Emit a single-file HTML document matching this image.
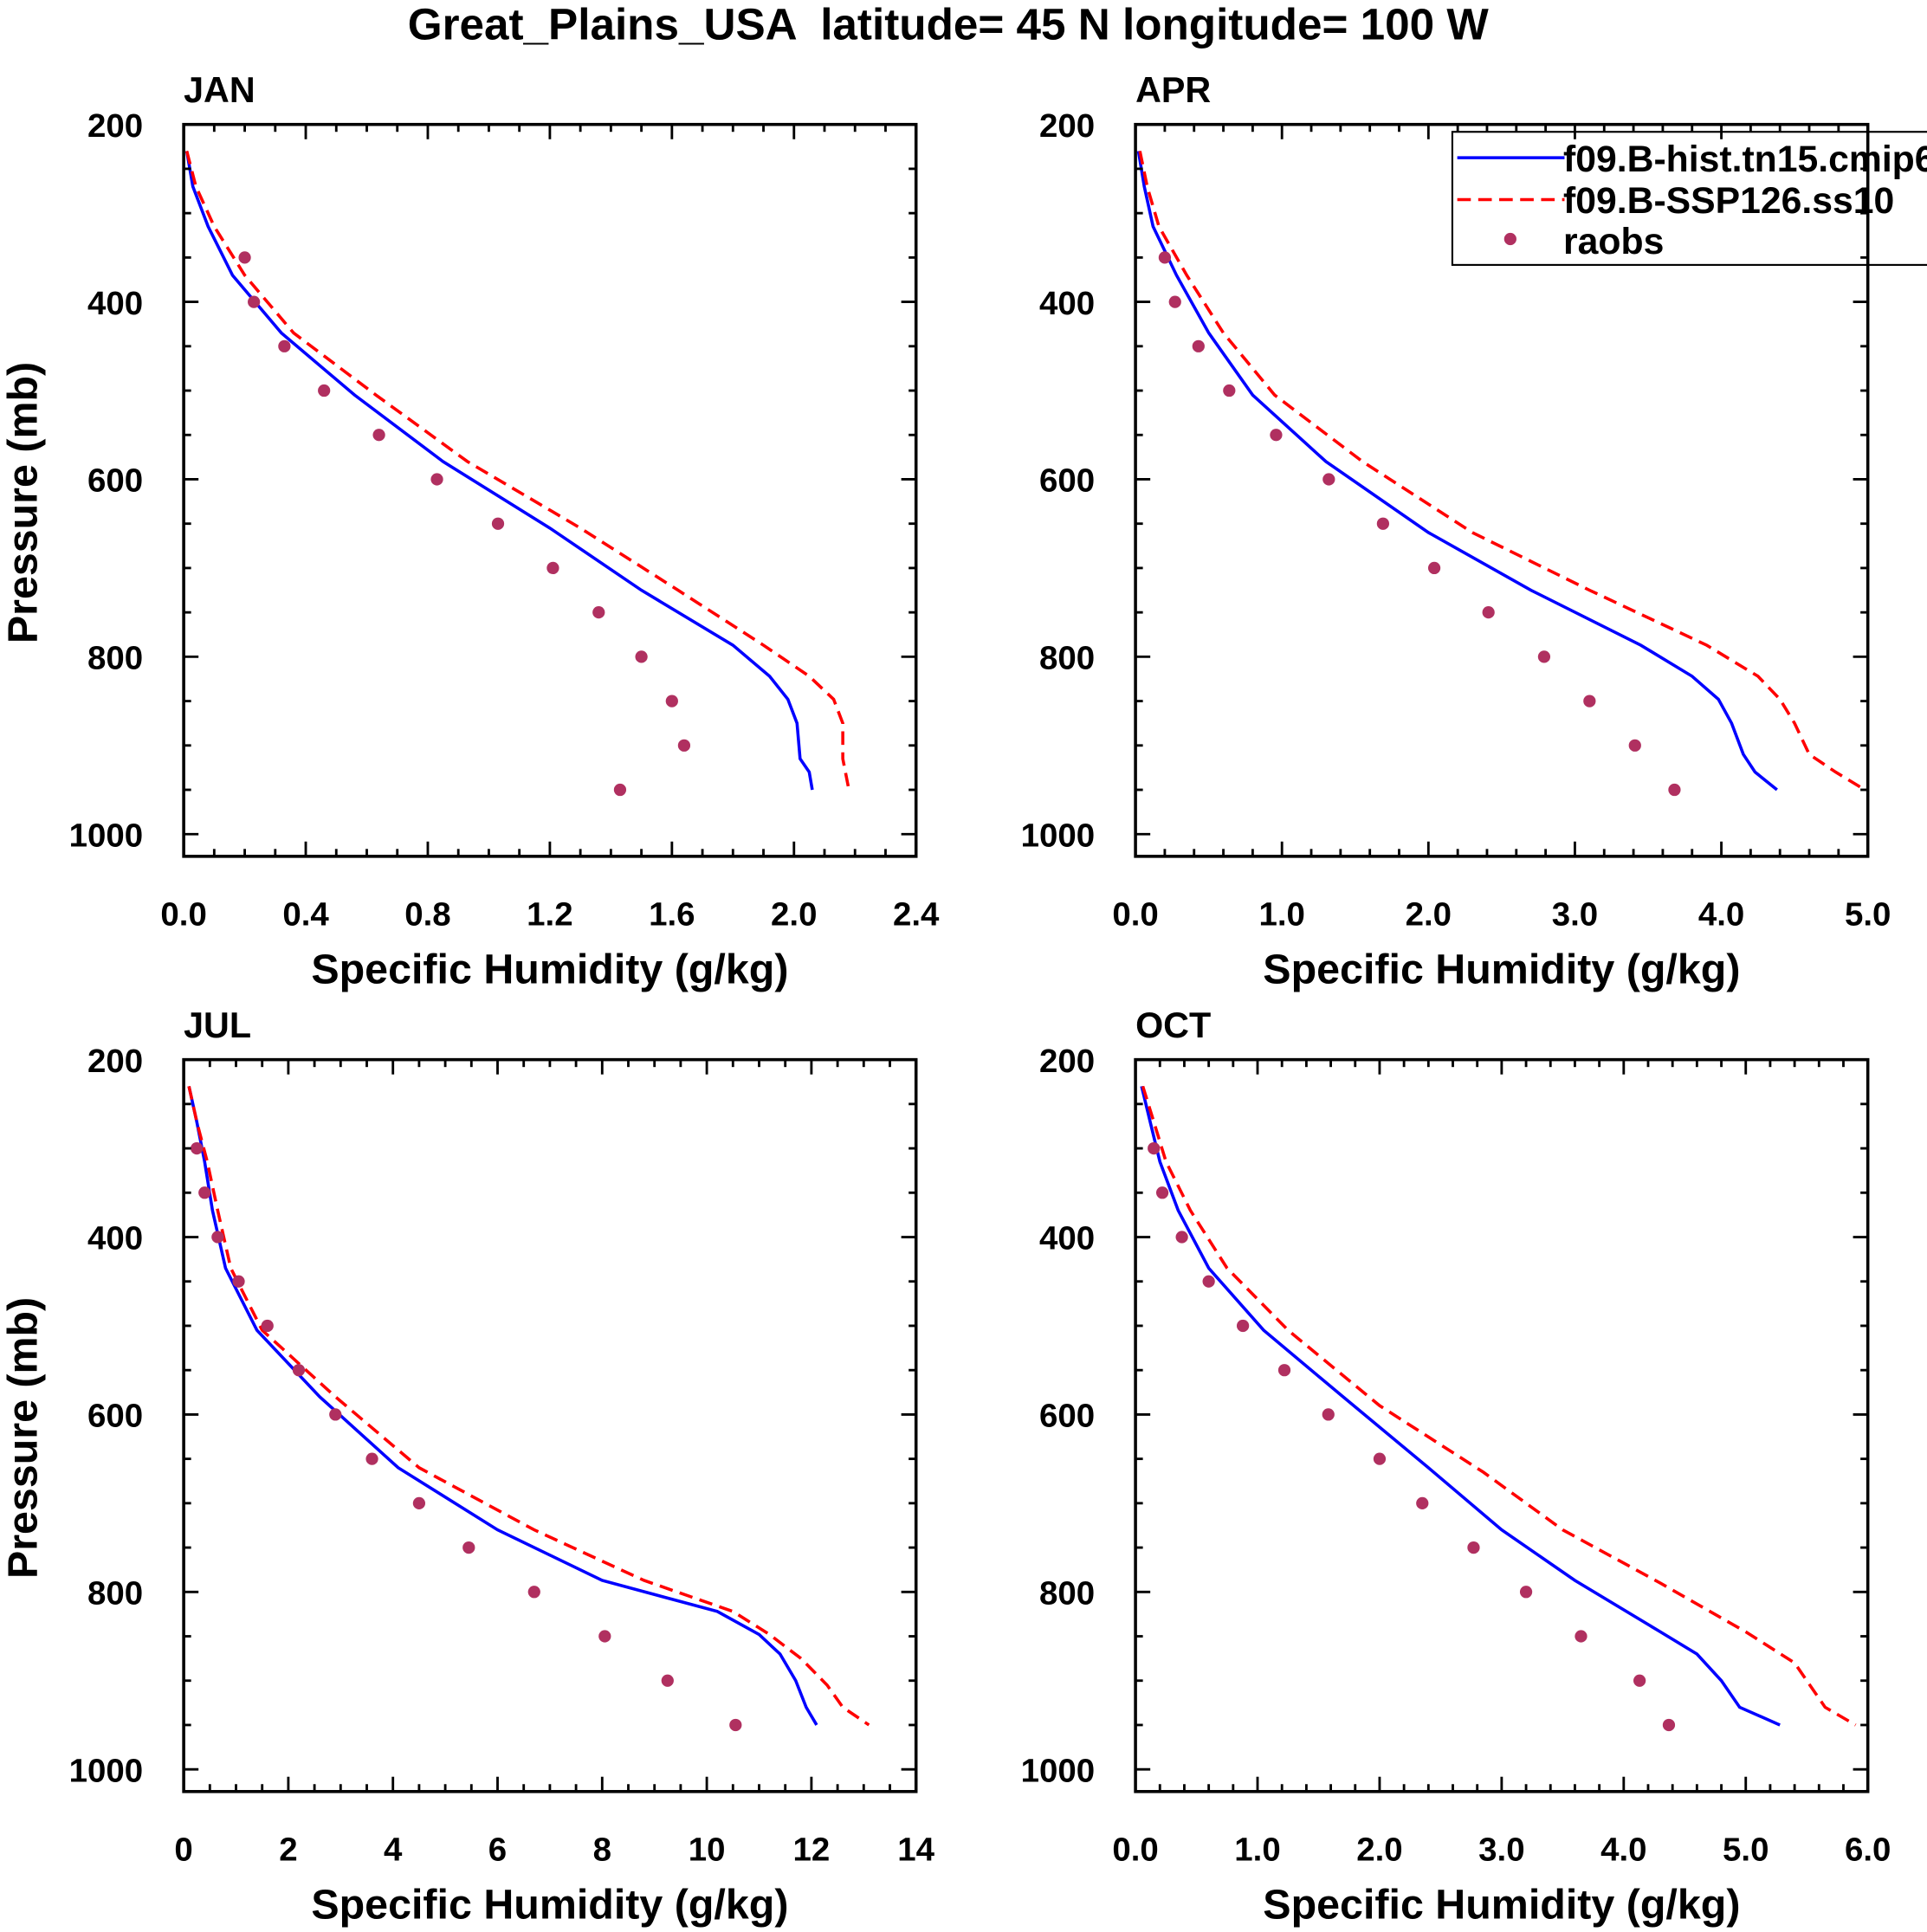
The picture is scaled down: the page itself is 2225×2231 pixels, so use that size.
<!DOCTYPE html>
<html><head><meta charset="utf-8"><style>
html,body{margin:0;padding:0;background:#fff}
svg{display:block}
text{font-family:"Liberation Sans",sans-serif;font-weight:bold;fill:#000}
</style></head><body>
<svg id="chart" width="2225" height="2231" viewBox="0 0 1563 1568" preserveAspectRatio="none" xmlns="http://www.w3.org/2000/svg">
<text x="769" y="32" font-size="36" text-anchor="middle" xml:space="preserve">Great_Plains_USA  latitude= 45 N longitude= 100 W</text>
</svg>
<script>
const janBlueQ=[0.01,0.03,0.08,0.16,0.32,0.56,0.85,1.2,1.5,1.8,1.92,1.98,2.01,2.02,2.05,2.06];
const janBlueP=[230,270,315,370,435,505,580,655,725,787,822,848,875,915,930,950];
const janRedQ=[0.01,0.04,0.1,0.2,0.36,0.63,0.93,1.3,1.62,1.9,2.05,2.13,2.16,2.16,2.18];
const janRedP=[230,270,315,370,435,505,580,655,725,787,822,848,875,915,950];
const janObsP=[350,400,450,500,550,600,650,700,750,800,850,900,950];
const janObsQ=[0.2,0.23,0.33,0.46,0.64,0.83,1.03,1.21,1.36,1.5,1.6,1.64,1.43];
const janTicks=["0.0","0.4","0.8","1.2","1.6","2.0","2.4"];

const aprBlueQ=[0.02,0.06,0.12,0.28,0.5,0.8,1.3,2.0,2.7,3.45,3.8,3.98,4.07,4.15,4.23,4.38];
const aprBlueP=[230,270,315,370,435,505,580,660,725,787,822,848,875,910,930,950];
const aprRedQ=[0.03,0.08,0.16,0.35,0.6,0.95,1.55,2.3,3.1,3.9,4.25,4.4,4.5,4.6,4.78,4.98];
const aprRedP=[230,270,315,370,435,505,580,660,725,787,822,848,875,910,930,950];
const aprObsP=[350,400,450,500,550,600,650,700,750,800,850,900,950];
const aprObsQ=[0.2,0.27,0.43,0.64,0.96,1.32,1.69,2.04,2.41,2.79,3.1,3.41,3.68];
const aprTicks=["0.0","1.0","2.0","3.0","4.0","5.0"];

const julBlueQ=[0.1,0.25,0.4,0.55,0.8,1.4,2.6,4.1,6.0,8.0,10.2,11.0,11.4,11.7,11.9,12.1];
const julBlueP=[230,270,315,370,435,505,580,660,730,787,822,848,870,900,930,950];
const julRedQ=[0.1,0.25,0.45,0.65,0.9,1.5,2.9,4.5,6.7,8.8,10.5,11.2,11.8,12.3,12.6,13.1];
const julRedP=[230,270,315,370,435,505,580,660,730,787,822,848,875,905,930,950];
const julObsP=[300,350,400,450,500,550,600,650,700,750,800,850,900,950];
const julObsQ=[0.25,0.4,0.65,1.05,1.6,2.2,2.9,3.6,4.5,5.45,6.7,8.05,9.25,10.55];
const julTicks=["0","2","4","6","8","10","12","14"];

const octBlueQ=[0.05,0.12,0.2,0.35,0.6,1.05,1.7,2.4,3.0,3.6,4.3,4.6,4.8,4.95,5.28];
const octBlueP=[230,270,315,370,435,505,580,660,730,787,845,870,900,930,950];
const octRedQ=[0.06,0.15,0.25,0.45,0.75,1.25,2.0,2.85,3.5,4.3,5.0,5.4,5.65,5.9];
const octRedP=[230,270,315,370,435,505,590,665,730,790,845,880,930,950];
const octObsP=[300,350,400,450,500,550,600,650,700,750,800,850,900,950];
const octObsQ=[0.15,0.22,0.38,0.6,0.88,1.22,1.58,2.0,2.35,2.77,3.2,3.65,4.13,4.37];
const octTicks=["0.0","1.0","2.0","3.0","4.0","5.0","6.0"];

const pTicks=[200,400,600,800,1000];
const NS="http://www.w3.org/2000/svg";
const svg=document.getElementById('chart');
function mk(tag,attrs,parent){const e=document.createElementNS(NS,tag);for(const k in attrs)e.setAttribute(k,attrs[k]);(parent||svg).appendChild(e);return e;}

function panel(name,x0,y0,xmax,ticks,minorStep,bq,bp,rq,rp,op,oq,legend){
  const W=594,H=594,pMin=200,pMax=1025;
  const g=mk('g',{});
  
  
  const sx=v=>x0+v/xmax*W;
  const sy=p=>y0+(p-pMin)/(pMax-pMin)*H;
  const b=mk('polyline',{points:bq.map((q,i)=>sx(q)+','+sy(bp[i])).join(' '),fill:'none',stroke:'#0000ff','stroke-width':2.5},g);
  
  
  const r=mk('polyline',{points:rq.map((q,i)=>sx(q)+','+sy(rp[i])).join(' '),fill:'none',stroke:'#ff0000','stroke-width':2.5,'stroke-dasharray':'11,6'},g);
  
  
  op.forEach((p,i)=>{const c=mk('circle',{cx:sx(oq[i]),cy:sy(p),r:5,fill:'#b03060'},g);
    
    });
  if(legend){
    const lg=mk('g',{},g);
    
    
    mk('rect',{x:1178,y:107,width:400,height:108,fill:'#fff',stroke:'#000','stroke-width':1.5},lg);
    mk('line',{x1:1182,y1:128,x2:1269,y2:128,stroke:'#0000ff','stroke-width':2.5},lg);
    mk('line',{x1:1182,y1:162,x2:1269,y2:162,stroke:'#ff0000','stroke-width':2.5,'stroke-dasharray':'11,6'},lg);
    mk('circle',{cx:1225,cy:194,r:5,fill:'#b03060'},lg);
    [['f09.B-hist.tn15.cmip6',139],['f09.B-SSP126.ss10',173],['raobs',206]].forEach(([t,y])=>{const tx=mk('text',{x:1268,y:y,'font-size':30},lg);tx.textContent=t;});
  }
  mk('rect',{x:x0,y:y0,width:W,height:H,fill:'none',stroke:'#000','stroke-width':2.5},g);
  for(let p=200;p<=1000;p+=50){const maj=p%200===0,L=maj?12:6;
    mk('line',{x1:x0,y1:sy(p),x2:x0+L,y2:sy(p),stroke:'#000','stroke-width':2},g);
    mk('line',{x1:x0+W,y1:sy(p),x2:x0+W-L,y2:sy(p),stroke:'#000','stroke-width':2},g);}
  pTicks.forEach(p=>{const t=mk('text',{x:x0-33,y:sy(p)+10,'font-size':27,'text-anchor':'end'},g);t.textContent=p;
    });
  for(let v=0;v<=xmax+1e-9;v+=minorStep){const maj=ticks.some(t=>Math.abs(parseFloat(t)-v)<1e-6),L=maj?12:6;
    mk('line',{x1:sx(v),y1:y0,x2:sx(v),y2:y0+L,stroke:'#000','stroke-width':2},g);
    mk('line',{x1:sx(v),y1:y0+H,x2:sx(v),y2:y0+H-L,stroke:'#000','stroke-width':2},g);}
  ticks.forEach(t=>{const e=mk('text',{x:sx(parseFloat(t)),y:y0+H+56,'font-size':27,'text-anchor':'middle'},g);e.textContent=t;
    });
  const xt=mk('text',{x:x0+W/2,y:y0+H+103,'font-size':34,'text-anchor':'middle'},g);xt.textContent='Specific Humidity (g/kg)';
  
  const pt=mk('text',{x:x0,y:y0-18,'font-size':29},g);pt.textContent=name.toUpperCase();
  
  if(x0<500){const yt=mk('text',{x:0,y:0,'font-size':34,'text-anchor':'middle',transform:`translate(${x0-119},${y0+H/2+10}) rotate(-90)`},g);yt.textContent='Pressure (mb)';
    }
}
panel('jan',149,101,2.4,janTicks,0.1,janBlueQ,janBlueP,janRedQ,janRedP,janObsP,janObsQ,false);
panel('apr',921,101,5.0,aprTicks,0.2,aprBlueQ,aprBlueP,aprRedQ,aprRedP,aprObsP,aprObsQ,true);
panel('jul',149,860,14,julTicks,0.5,julBlueQ,julBlueP,julRedQ,julRedP,julObsP,julObsQ,false);
panel('oct',921,860,6.0,octTicks,0.2,octBlueQ,octBlueP,octRedQ,octRedP,octObsP,octObsQ,false);
</script>
</body></html>
